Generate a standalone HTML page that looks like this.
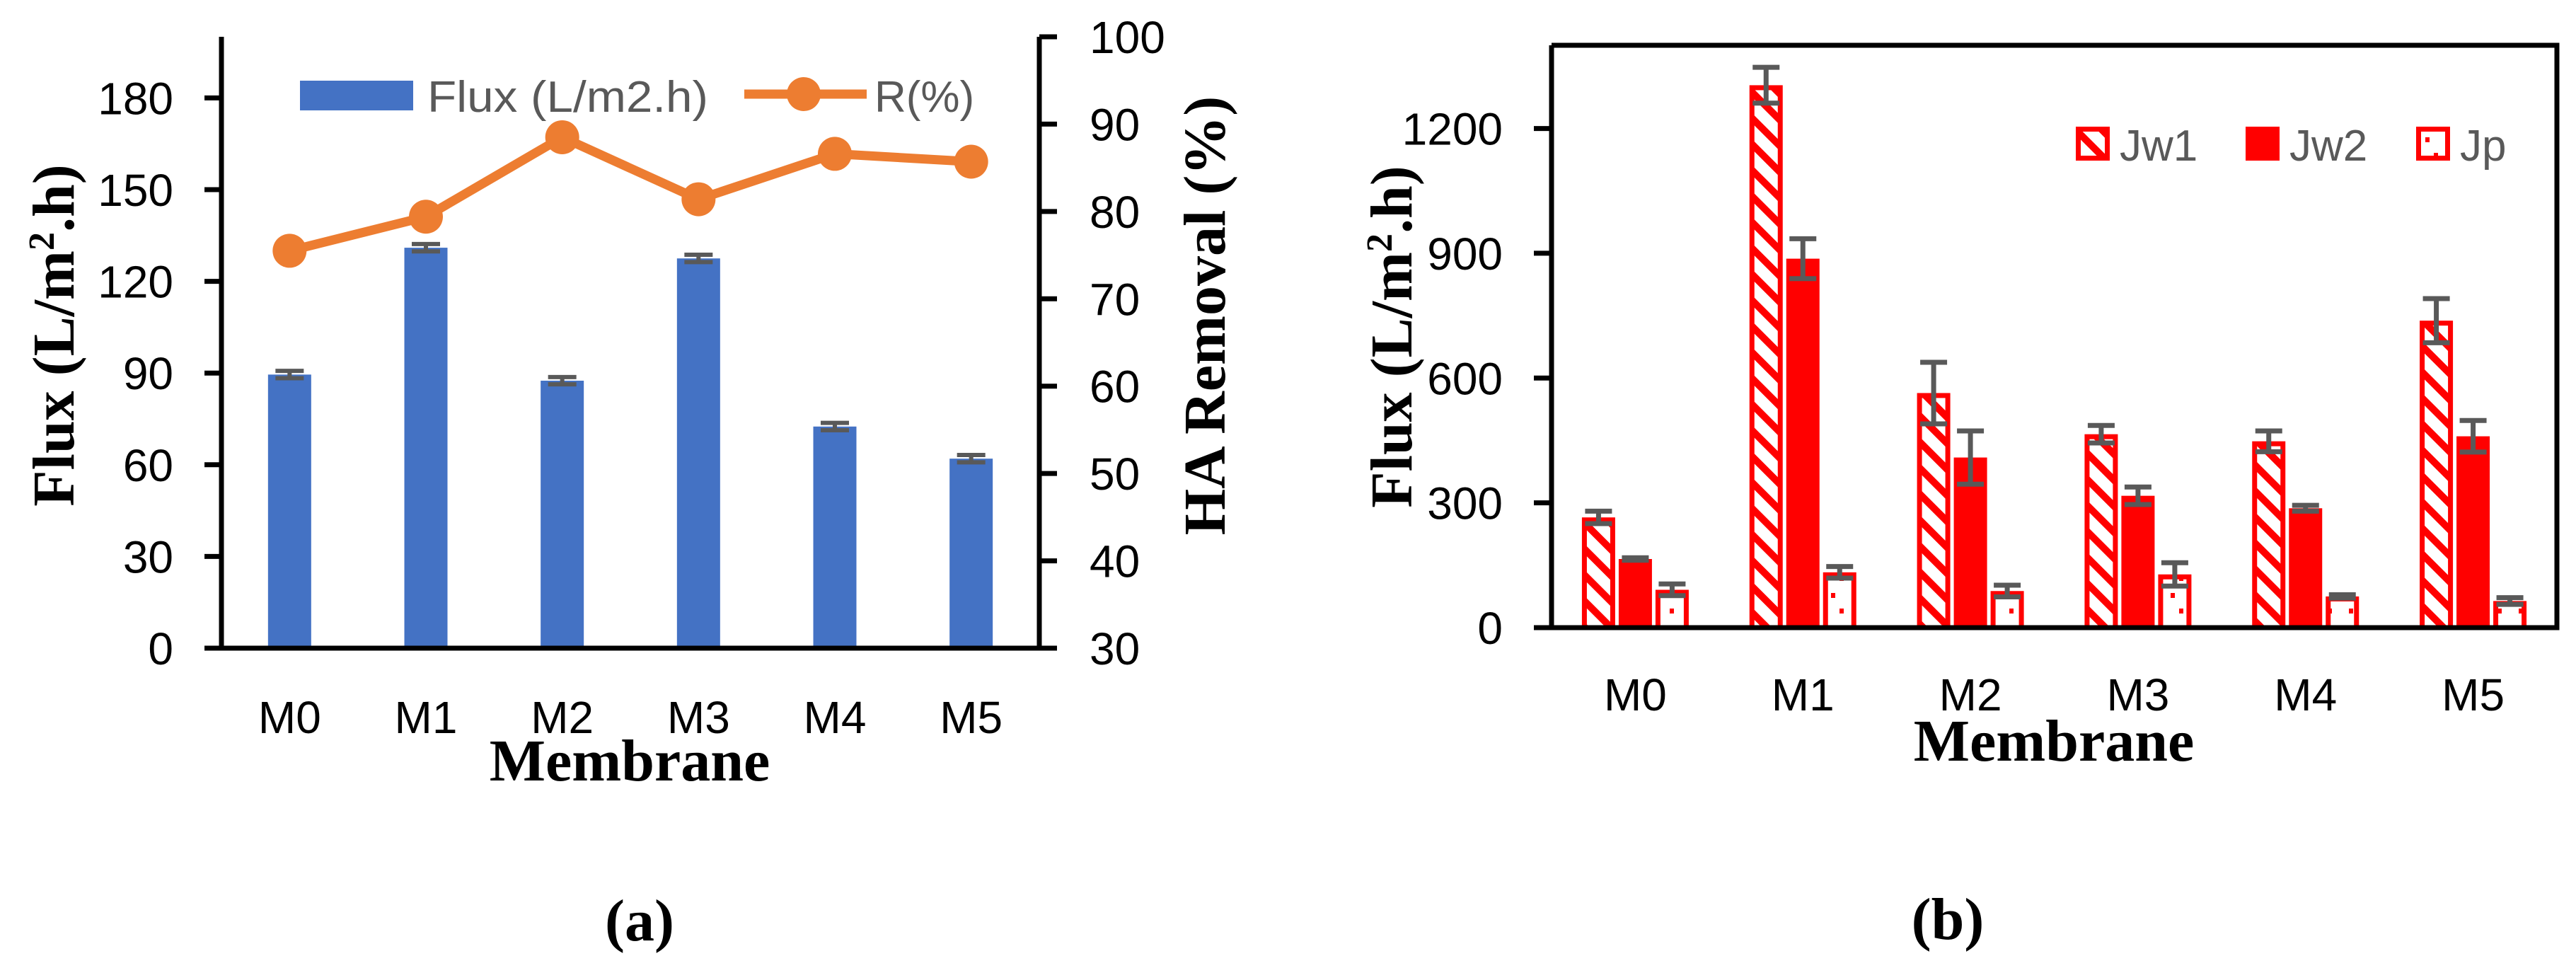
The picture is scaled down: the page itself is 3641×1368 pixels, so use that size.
<!DOCTYPE html>
<html><head><meta charset="utf-8"><style>
html,body{margin:0;padding:0;background:#fff;}
svg{display:block;}
text{font-family:"Liberation Sans",sans-serif;}
.tk{font-size:64px;fill:#000;}
.ttl{font-family:"Liberation Serif",serif;font-weight:bold;font-size:84px;fill:#000;}
.lg{font-size:62px;fill:#595959;}
</style></head><body>
<svg id="root" width="3641" height="1368" viewBox="0 0 3641 1368" xmlns="http://www.w3.org/2000/svg">
<defs>
<pattern id="diag" patternUnits="userSpaceOnUse" width="26" height="26" patternTransform="rotate(45)">
<rect width="26" height="26" fill="#fff"/><rect width="26" height="10" fill="#f00"/>
</pattern>
<pattern id="dots" patternUnits="userSpaceOnUse" width="30" height="46">
<rect width="30" height="46" fill="#fff"/><rect x="8" y="10" width="6" height="7" fill="#f00"/><rect x="20" y="32" width="6" height="7" fill="#f00"/>
</pattern>
</defs>
<g id="chartA"></g>
<g id="chartB"></g>
</svg>
<script>
// ---- Chart (a) data ----
const catsA = ["M0","M1","M2","M3","M4","M5"];
const fluxA = [89.5, 131, 87.5, 127.5, 72.5, 62];
const fluxErrA = [1.2, 1.2, 1.2, 1.2, 1.2, 1.2];
const removalA = [75.5, 79.4, 88.5, 81.4, 86.6, 85.7];
const leftTicksA = [0,30,60,90,120,150,180];
const rightTicksA = [30,40,50,60,70,80,90,100];
// ---- Chart (b) data ----
const catsB = ["M0","M1","M2","M3","M4","M5"];
const jw1 = [265, 1304, 564, 465, 448, 738];
const jw1Err = [15, 43, 74, 21, 25, 53];
const jw2 = [165, 887, 409, 317, 287, 460];
const jw2Err = [3, 48, 64, 21, 7, 38];
const jp = [91, 133, 88, 128, 75, 64];
const jpErr = [14, 14, 14, 28, 4, 8];
const ticksB = [0,300,600,900,1200];

const NS="http://www.w3.org/2000/svg";
function mk(parent,tag,attrs,txt){const e=document.createElementNS(NS,tag);for(const k in attrs)e.setAttribute(k,attrs[k]);if(txt!==undefined)e.textContent=txt;parent.appendChild(e);return e;}

// ===== Chart A =====
(function(){
const g=document.getElementById('chartA');
const L=313,R=1469,T=52,B=916;
const yL=v=>B-(v/200)*(B-T);
const yR=v=>B-((v-30)/70)*(B-T);
const step=(R-L)/catsA.length;
const xC=i=>L+step*(i+0.5);
const bw=61;
catsA.forEach((c,i)=>{
  const b=mk(g,'rect',{x:xC(i)-bw/2,y:yL(fluxA[i]),width:bw,height:B-yL(fluxA[i]),fill:'#4472C4'});
  
  
  const e=mk(g,'path',{d:`M${xC(i)-20},${yL(fluxA[i]+fluxErrA[i])}h40M${xC(i)},${yL(fluxA[i]+fluxErrA[i])}V${yL(fluxA[i]-fluxErrA[i])}M${xC(i)-20},${yL(fluxA[i]-fluxErrA[i])}h40`,stroke:'#595959','stroke-width':6,fill:'none'});
  
  
  const t=mk(g,'text',{x:xC(i),y:1036,'text-anchor':'middle',class:'tk'},c);
  
  
});
const ax=mk(g,'path',{d:`M${L},${T}V${B}M289,${B}H1494M${R},${T}V${B}`,stroke:'#000','stroke-width':7,fill:'none'});


leftTicksA.forEach(v=>{
  const tl=mk(g,'line',{x1:289,x2:L,y1:yL(v),y2:yL(v),stroke:'#000','stroke-width':7});
  
  
  const t=mk(g,'text',{x:245,y:yL(v)+23,'text-anchor':'end',class:'tk'},String(v));
  
  
});
rightTicksA.forEach(v=>{
  const tl=mk(g,'line',{x1:R,x2:1494,y1:yR(v),y2:yR(v),stroke:'#000','stroke-width':7});
  
  
  const t=mk(g,'text',{x:1540,y:yR(v)+23,'text-anchor':'start',class:'tk'},String(v));
  
  
});
const pts=removalA.map((v,i)=>`${xC(i)},${yR(v)}`).join(' ');
const pl=mk(g,'polyline',{points:pts,fill:'none',stroke:'#ED7D31','stroke-width':13,'stroke-linejoin':'round'});


removalA.forEach((v,i)=>{
  const c=mk(g,'circle',{cx:xC(i),cy:yR(v),r:24,fill:'#ED7D31'});
  
  
});
const lg=mk(g,'g',{});


const l1=mk(lg,'rect',{x:424,y:114,width:160,height:42,fill:'#4472C4'});


const l1t=mk(lg,'text',{x:604,y:158,class:'lg',textLength:397,lengthAdjust:'spacingAndGlyphs'},'Flux (L/m2.h)');


const l2=mk(lg,'line',{x1:1052,x2:1225,y1:133,y2:133,stroke:'#ED7D31','stroke-width':13});


const l2c=mk(lg,'circle',{cx:1136,cy:133,r:24,fill:'#ED7D31'});


const l2t=mk(lg,'text',{x:1236,y:158,class:'lg'},'R(%)');


const yt=mk(g,'text',{x:0,y:0,class:'ttl','text-anchor':'middle',transform:'translate(104,474) rotate(-90)'});
yt.innerHTML='Flux (L/m<tspan dy="-28" font-size="52">2</tspan><tspan dy="28">.h)</tspan>';


const yt2=mk(g,'text',{x:0,y:0,class:'ttl','text-anchor':'middle',transform:'translate(1731,446) rotate(-90)'},'HA Removal (%)');


const xt=mk(g,'text',{x:890,y:1103,class:'ttl','text-anchor':'middle'},'Membrane');


const pa=mk(g,'text',{x:904,y:1329,class:'ttl','text-anchor':'middle'},'(a)');


})();

// ===== Chart B =====
(function(){
const g=document.getElementById('chartB');
const L=2193,R=3614,T=64,B=887;
const y=v=>B-(v/1400)*(B-T);
const step=(R-L)/catsB.length;
const xC=i=>L+step*(i+0.5);
const bw=47, off=52;
const series=[{d:jw1,e:jw1Err,fill:'url(#diag)',n:'jw1'},{d:jw2,e:jw2Err,fill:'#f00',n:'jw2'},{d:jp,e:jpErr,fill:'url(#dots)',n:'jp'}];
catsB.forEach((c,i)=>{
  series.forEach((s,k)=>{
    const cx=xC(i)+(k-1)*off;
    const b=mk(g,'rect',{x:cx-bw/2+3.5,y:y(s.d[i])+3.5,width:bw-7,height:B-y(s.d[i])-3.5,fill:s.fill,stroke:'#f00','stroke-width':7});
    
    
    const hi=y(s.d[i]+s.e[i]),lo=y(s.d[i]-s.e[i]);
    const e=mk(g,'path',{d:`M${cx-19},${hi}h38M${cx},${hi}V${lo}M${cx-19},${lo}h38`,stroke:'#595959','stroke-width':7,fill:'none'});
    
    
  });
  const t=mk(g,'text',{x:xC(i),y:1004,'text-anchor':'middle',class:'tk'},c);
  
  
});
const ax=mk(g,'path',{d:`M${L},${T}V${B}M2168,${B}H${R}V${T}H${L}`,stroke:'#000','stroke-width':7,fill:'none'});


ticksB.forEach(v=>{
  const tl=mk(g,'line',{x1:2168,x2:L,y1:y(v),y2:y(v),stroke:'#000','stroke-width':7});
  
  
  const t=mk(g,'text',{x:2124,y:y(v)+23,'text-anchor':'end',class:'tk'},String(v));
  
  
});
const lg=mk(g,'g',{});


const items=[{x:2934,f:'url(#diag)',t:'Jw1'},{x:3174,f:'#f00',t:'Jw2'},{x:3415,f:'url(#dots)',t:'Jp'}];
items.forEach(it=>{
  const r=mk(lg,'rect',{x:it.x+3.5,y:182.5,width:41,height:41,fill:it.f,stroke:'#f00','stroke-width':7});
  
  
  const t=mk(lg,'text',{x:it.x+62,y:227,class:'lg'},it.t);
  
  
});
const yt=mk(g,'text',{x:0,y:0,class:'ttl','text-anchor':'middle',transform:'translate(1995,476) rotate(-90)'});
yt.innerHTML='Flux (L/m<tspan dy="-28" font-size="52">2</tspan><tspan dy="28">.h)</tspan>';


const xt=mk(g,'text',{x:2903,y:1075,class:'ttl','text-anchor':'middle'},'Membrane');


const pb=mk(g,'text',{x:2753,y:1327,class:'ttl','text-anchor':'middle'},'(b)');


})();
</script>
</body></html>
